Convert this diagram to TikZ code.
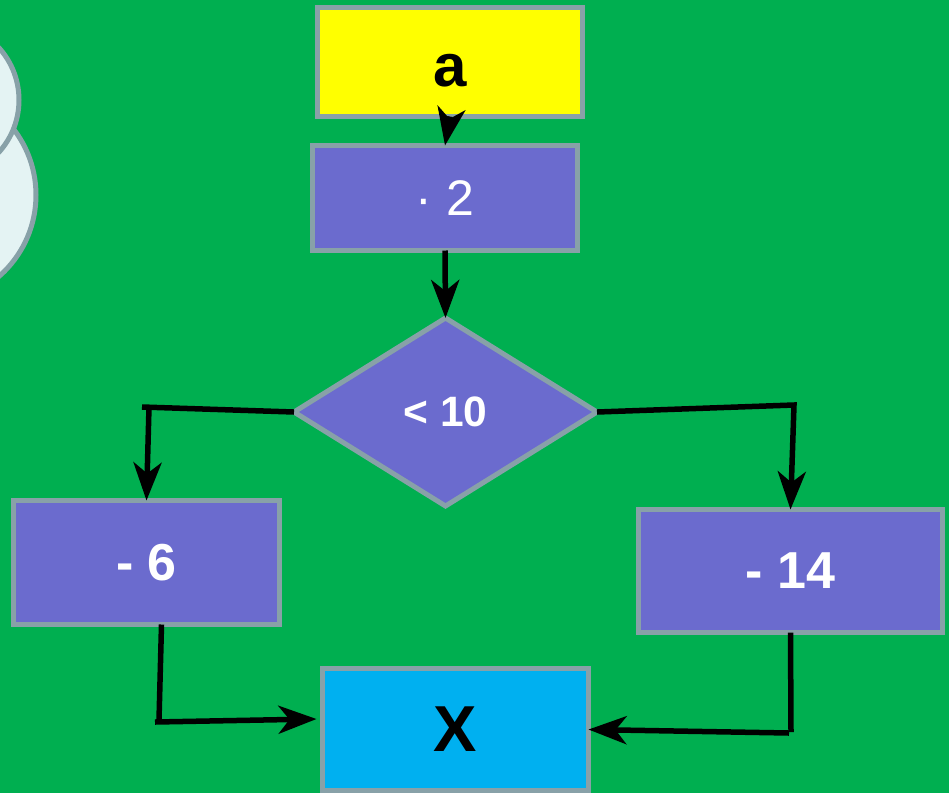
\documentclass[tikz,border=0pt]{standalone}
\usepackage{fontspec}
\setmainfont{Liberation Sans}
\usetikzlibrary{arrows.meta,shapes.geometric}
\definecolor{bggreen}{HTML}{00AF50}
\definecolor{boxgray}{HTML}{88A1A8}
\definecolor{boxpurple}{HTML}{6B6BCE}
\definecolor{boxblue}{HTML}{00B0F0}
\definecolor{boxyellow}{HTML}{FFFF00}
\definecolor{cloudfill}{HTML}{E4F3F3}
\tikzset{
  flownode/.style = {draw=boxgray, line width=5pt, inner sep=0pt, outer sep=0pt,
    text centered},
  stepbox/.style = {flownode, rectangle, fill=boxpurple, text=white,
    font=\fontsize{52}{52}\selectfont\bfseries},
  endbox/.style = {flownode, rectangle, font=\fontsize{65}{65}\selectfont\bfseries},
  cloudpart/.style = {flownode, circle},
  linkline/.style = {line width=5.5pt, black},
  link/.style = {->, linkline},
}

\begin{document}
\begin{tikzpicture}[x=1pt,y=-1pt,>={Stealth[length=38pt,width=28pt,inset=11pt]}]
  \useasboundingbox (0,0) rectangle (949,793);
  \clip (0,0) rectangle (949,793);
  \fill [bggreen] (0,0) rectangle (949,793);
  % cloud at the left edge
  \node [cloudpart, fill=cloudfill, minimum size=216pt] (cloudlow) at (-72,195) {};
  \node [cloudpart, fill=cloudfill, minimum size=156pt] (cloudup) at (-59,100) {};
  % boxes
  \node [endbox, fill=boxyellow, minimum width=265pt, minimum height=109pt,
    font=\fontsize{60}{60}\selectfont\bfseries,
    text height=48pt, text depth=0pt] (start) at (450,62) {a};
  \node [stepbox, minimum width=265pt, minimum height=105pt,
    font=\fontsize{50}{50}\selectfont] (times) at (445,198) {· 2};
  \node [flownode, diamond, fill=boxpurple, text=white, minimum width=303pt,
    minimum height=188pt, font=\fontsize{42.5}{42.5}\selectfont\bfseries] (test) at (445.5,412) {< 10};
  \node [stepbox, minimum width=266pt, minimum height=124pt] (minsix) at (146.5,562.5) {- 6};
  \node [stepbox, minimum width=304pt, minimum height=123pt] (minfourteen) at (790.5,571) {- 14};
  \node [endbox, fill=boxblue, minimum width=266pt, minimum height=122pt] (result) at (455.5,729.5) {X};
  % corners
  \coordinate (leftup) at (142,407);
  \coordinate (leftdrop) at (149,407);
  \coordinate (rightup) at (794,405);
  \coordinate (sixend) at (159,720);
  \coordinate (leftlow) at (155,722);
  \coordinate (fourteenend) at (791,732);
  \coordinate (rightlow) at (789,733);
  % connectors
  \draw [link] (start.south) -- (times.north);
  \draw [link] (times.south) -- (test.north);
  \draw [linkline] (test.west) -- (leftup);
  \draw [link] (leftdrop) -- (minsix.north);
  \draw [link] (test.east) -- (rightup) -- (minfourteen.north);
  \draw [linkline] ([xshift=15pt]minsix.south) -- (sixend);
  \draw [link] (leftlow) -- ([xshift=-6pt,yshift=10.5pt]result.west);
  \draw [linkline] (minfourteen.south) -- (fourteenend);
  \draw [link] (rightlow) -- (result.east);
\end{tikzpicture}
\end{document}
